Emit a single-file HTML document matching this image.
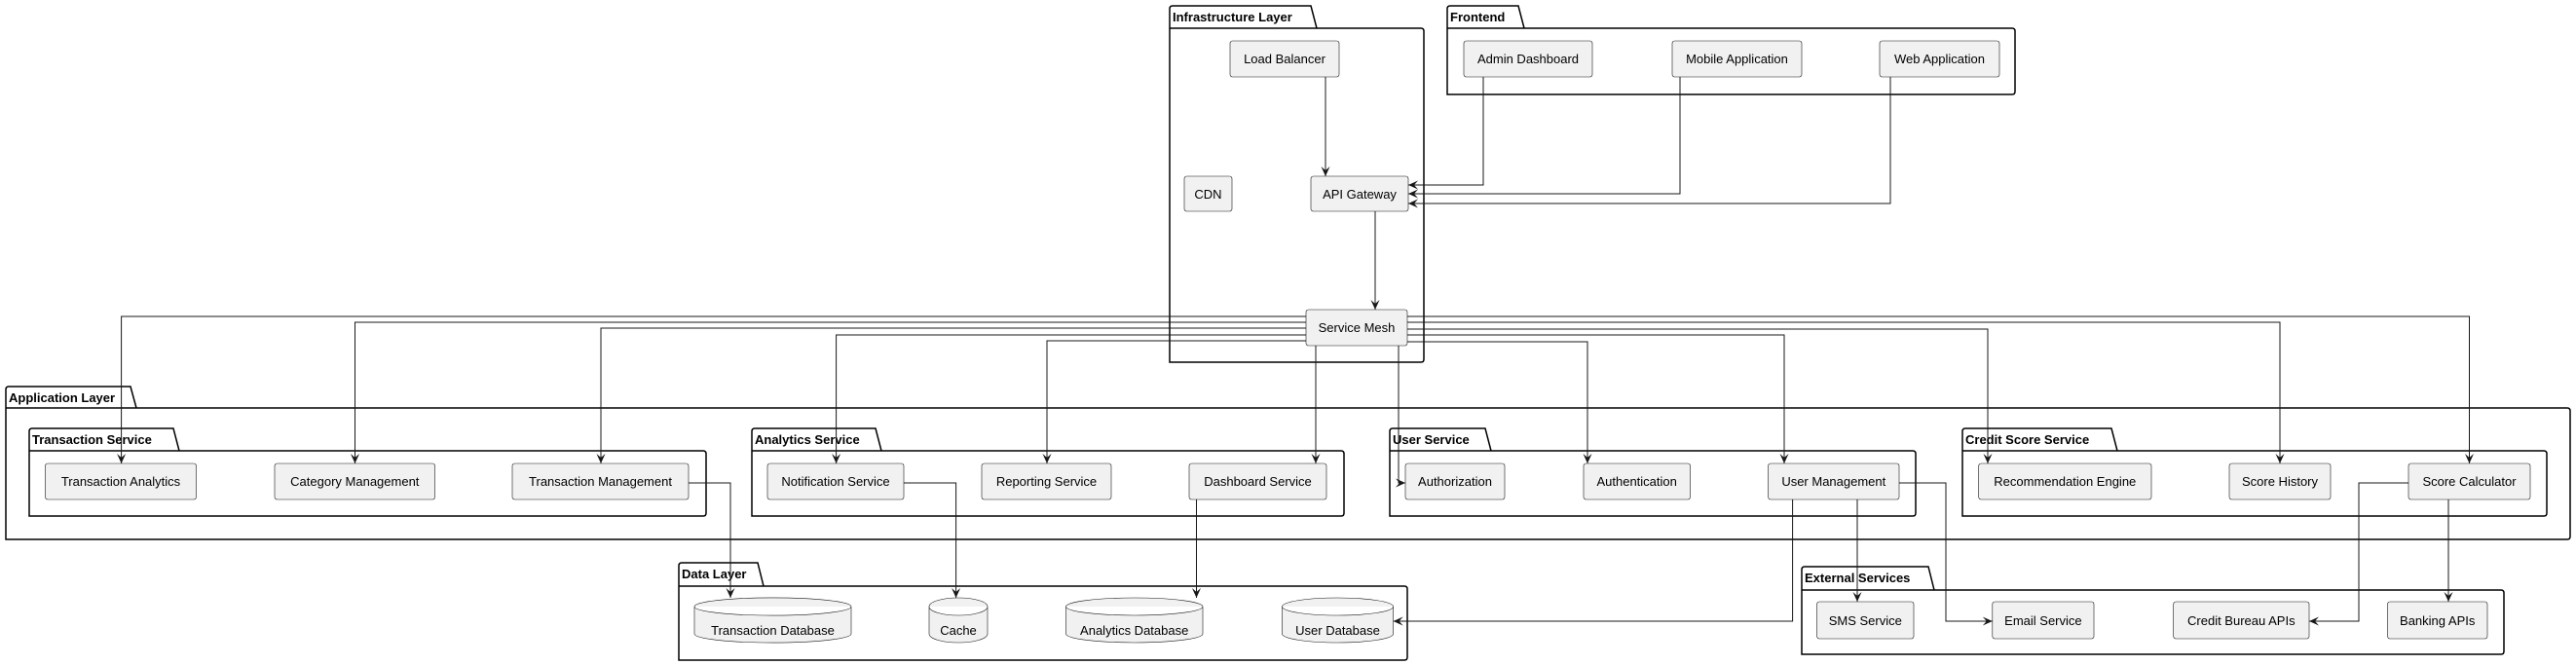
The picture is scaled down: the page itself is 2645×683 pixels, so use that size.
<!DOCTYPE html>
<html><head><meta charset="utf-8"><style>
html,body{margin:0;padding:0;background:#fff;}
svg{display:block;}
text{font-family:"Liberation Sans",sans-serif;font-size:13px;fill:#000;}
.t{font-weight:bold;font-size:13px;}
.n{fill:#F1F1F1;stroke:#181818;stroke-width:0.6;}
.p{fill:none;stroke:#000;stroke-width:1.5;}
.l{fill:none;stroke:#181818;stroke-width:1;marker-end:url(#a);}
</style></head><body>
<svg width="2645" height="683" viewBox="0 0 2645 683" xmlns="http://www.w3.org/2000/svg">
<defs><marker id="a" markerUnits="userSpaceOnUse" markerWidth="12" markerHeight="10" refX="10" refY="4.5" orient="auto"><path d="M0,0 L10,4.5 L0,9 L4,4.5 Z" fill="#181818"/></marker></defs>

<!-- packages -->
<g class="p">
<path d="M1201,372 V9 Q1201,6 1204,6 H1346 L1352,29 H1459 Q1462,29 1462,32 V369 Q1462,372 1459,372 Z M1201,29 H1352"/>
<path d="M1486,97 V9 Q1486,6 1489,6 H1559 L1565,29 H2066 Q2069,29 2069,32 V94 Q2069,97 2066,97 Z M1486,29 H1565"/>
<path d="M6,554 V400 Q6,397 9,397 H134 L140,419 H2636 Q2639,419 2639,422 V551 Q2639,554 2636,554 Z M6,419 H140"/>
<path d="M30,530 V443 Q30,440 33,440 H178 L184,463 H722 Q725,463 725,466 V527 Q725,530 722,530 Z M30,463 H184"/>
<path d="M772,530 V443 Q772,440 775,440 H899 L905,463 H1377 Q1380,463 1380,466 V527 Q1380,530 1377,530 Z M772,463 H905"/>
<path d="M1427,530 V443 Q1427,440 1430,440 H1525 L1531,463 H1964 Q1967,463 1967,466 V527 Q1967,530 1964,530 Z M1427,463 H1531"/>
<path d="M2015,530 V443 Q2015,440 2018,440 H2168 L2174,463 H2612 Q2615,463 2615,466 V527 Q2615,530 2612,530 Z M2015,463 H2174"/>
<path d="M697,678 V581 Q697,578 700,578 H778 L784,602 H1442 Q1445,602 1445,605 V675 Q1445,678 1442,678 Z M697,602 H784"/>
<path d="M1850,672 V585 Q1850,582 1853,582 H1980 L1986,606 H2568 Q2571,606 2571,609 V669 Q2571,672 2568,672 Z M1850,606 H1986"/>
</g>
<text class="t" x="1204" y="22">Infrastructure Layer</text>
<text class="t" x="1489" y="22">Frontend</text>
<text class="t" x="9" y="413">Application Layer</text>
<text class="t" x="33" y="456">Transaction Service</text>
<text class="t" x="775" y="456">Analytics Service</text>
<text class="t" x="1430" y="456">User Service</text>
<text class="t" x="2018" y="456">Credit Score Service</text>
<text class="t" x="700" y="594">Data Layer</text>
<text class="t" x="1853" y="598">External Services</text>

<!-- nodes -->
<g class="n">
<rect x="1263" y="42" width="112" height="37" rx="2.5"/>
<rect x="1216" y="181" width="49" height="36" rx="2.5"/>
<rect x="1346" y="181" width="100" height="36" rx="2.5"/>
<rect x="1341" y="318" width="104" height="37" rx="2.5"/>
<rect x="1503" y="42" width="132" height="37" rx="2.5"/>
<rect x="1717" y="42" width="133" height="37" rx="2.5"/>
<rect x="1930" y="42" width="123" height="37" rx="2.5"/>
<rect x="46.5" y="476" width="155" height="37" rx="2.5"/>
<rect x="282" y="476" width="164.6" height="37" rx="2.5"/>
<rect x="526" y="476" width="181" height="37" rx="2.5"/>
<rect x="788" y="476" width="140" height="37" rx="2.5"/>
<rect x="1008" y="476" width="133" height="37" rx="2.5"/>
<rect x="1221" y="476" width="141" height="37" rx="2.5"/>
<rect x="1443" y="476" width="102" height="37" rx="2.5"/>
<rect x="1626" y="476" width="109.5" height="37" rx="2.5"/>
<rect x="1815.6" y="476" width="134.4" height="37" rx="2.5"/>
<rect x="2031.7" y="476" width="177.3" height="37" rx="2.5"/>
<rect x="2289" y="476" width="104" height="37" rx="2.5"/>
<rect x="2473" y="476" width="125" height="37" rx="2.5"/>
<rect x="1865.6" y="618" width="99.4" height="38" rx="2.5"/>
<rect x="2045.8" y="618" width="104.2" height="38" rx="2.5"/>
<rect x="2231.7" y="618" width="139.3" height="38" rx="2.5"/>
<rect x="2451.5" y="618" width="102.5" height="38" rx="2.5"/>
<path d="M713,623 A80,9 0 0,1 874,623 V651 A80,9 0 0,1 713,651 Z M713,623 A80,9 0 0,0 874,623"/>
<path d="M954,623 A30,9 0 0,1 1014,623 V651 A30,9 0 0,1 954,651 Z M954,623 A30,9 0 0,0 1014,623"/>
<path d="M1094.5,623 A70.25,9 0 0,1 1235,623 V651 A70.25,9 0 0,1 1094.5,651 Z M1094.5,623 A70.25,9 0 0,0 1235,623"/>
<path d="M1316.5,623 A57,9 0 0,1 1430.6,623 V651 A57,9 0 0,1 1316.5,651 Z M1316.5,623 A57,9 0 0,0 1430.6,623"/>
</g>
<g text-anchor="middle">
<text x="1319" y="65">Load Balancer</text>
<text x="1240.5" y="204">CDN</text>
<text x="1396" y="204">API Gateway</text>
<text x="1393" y="341">Service Mesh</text>
<text x="1569" y="65">Admin Dashboard</text>
<text x="1783.5" y="65">Mobile Application</text>
<text x="1991.5" y="65">Web Application</text>
<text x="124" y="499">Transaction Analytics</text>
<text x="364.3" y="499">Category Management</text>
<text x="616.5" y="499">Transaction Management</text>
<text x="858" y="499">Notification Service</text>
<text x="1074.5" y="499">Reporting Service</text>
<text x="1291.5" y="499">Dashboard Service</text>
<text x="1494" y="499">Authorization</text>
<text x="1680.7" y="499">Authentication</text>
<text x="1882.8" y="499">User Management</text>
<text x="2120.3" y="499">Recommendation Engine</text>
<text x="2341" y="499">Score History</text>
<text x="2535.5" y="499">Score Calculator</text>
<text x="1915.3" y="642">SMS Service</text>
<text x="2097.9" y="642">Email Service</text>
<text x="2301.3" y="642">Credit Bureau APIs</text>
<text x="2502.7" y="642">Banking APIs</text>
<text x="793.5" y="652">Transaction Database</text>
<text x="984" y="652">Cache</text>
<text x="1164.7" y="652">Analytics Database</text>
<text x="1373.5" y="652">User Database</text>
</g>

<!-- connectors -->
<g class="l">
<path d="M1361,79 V181"/>
<path d="M1412,217 V318"/>
<path d="M1523,79 V190 H1446"/>
<path d="M1725,79 V199 H1446"/>
<path d="M1941,79 V209 H1446"/>
<path d="M1341,325 H124.6 V476"/>
<path d="M1341,331 H364.5 V476"/>
<path d="M1341,337 H617 V476"/>
<path d="M1341,344 H858.6 V476"/>
<path d="M1341,350 H1075 V476"/>
<path d="M1445,325 H2535.5 V476"/>
<path d="M1445,331 H2341 V476"/>
<path d="M1445,338 H2041 V476"/>
<path d="M1445,344 H1832 V476"/>
<path d="M1445,351 H1630 V476"/>
<path d="M1351,355 V476"/>
<path d="M1436,355 V496 H1443"/>
<path d="M707,496 H750 V614"/>
<path d="M928,496 H981.6 V614"/>
<path d="M1228.5,513 V614"/>
<path d="M1840.6,513 V638 H1430.6"/>
<path d="M1907,513 V618"/>
<path d="M1950,496 H1998 V638 H2045.8"/>
<path d="M2473,496 H2422 V638 H2371"/>
<path d="M2514,513 V618"/>
</g>
</svg>
</body></html>
